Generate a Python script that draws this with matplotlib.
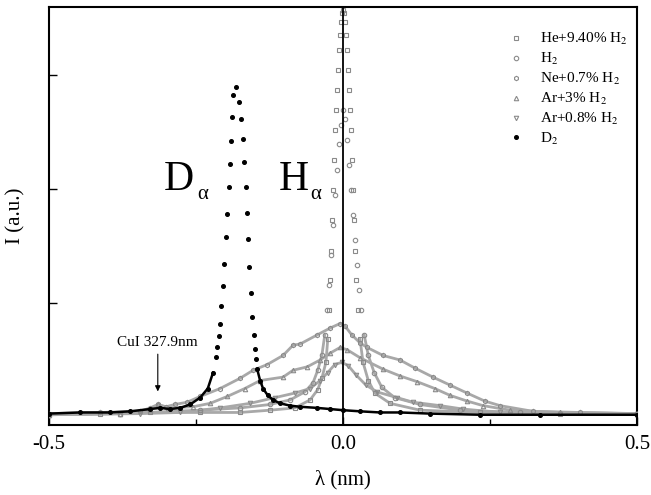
import numpy as np
import matplotlib
matplotlib.use('Agg')
from matplotlib import pyplot as plt

plt.rcParams['font.family'] = ['Liberation Serif', 'DejaVu Serif']
plt.rcParams['mathtext.fontset'] = 'stix'

# wavelength offset (nm) and intensity (a.u.)
he_x = [-0.5, -0.413, -0.328, -0.243, -0.175, -0.124, -0.082, -0.056, -0.043, -0.036,
        -0.029, -0.026, -0.024, -0.022, -0.020, -0.019, -0.017, -0.015, -0.014, -0.012,
        -0.010, -0.009, -0.007, -0.005, -0.003, -0.002, 0.0, 0.002, 0.003, 0.005,
        0.007, 0.009, 0.010, 0.012, 0.014, 0.015, 0.017, 0.019, 0.020, 0.022,
        0.026, 0.029, 0.034, 0.043, 0.054, 0.080, 0.131, 0.233, 0.369, 0.5]
he_y = [0.03, 0.03, 0.04, 0.04, 0.04, 0.06, 0.08, 0.15, 0.24, 0.34,
        0.48, 0.68, 0.94, 1.20, 1.46, 1.73, 1.99, 2.25, 2.52, 2.69,
        2.87, 3.04, 3.22, 3.35, 3.46, 3.54, 3.57, 3.54, 3.46, 3.35,
        3.22, 3.04, 2.87, 2.69, 2.52, 2.25, 1.99, 1.73, 1.46, 1.20,
        0.94, 0.68, 0.48, 0.32, 0.21, 0.12, 0.06, 0.04, 0.03, 0.03]

h2_x = [-0.5, -0.379, -0.243, -0.175, -0.124, -0.090, -0.065, -0.051, -0.043, -0.036,
        -0.031, -0.027, -0.024, -0.020, -0.017, -0.014, -0.010, -0.007, -0.003, 0.0,
        0.003, 0.007, 0.010, 0.014, 0.017, 0.020, 0.024, 0.027, 0.031, 0.036,
        0.043, 0.053, 0.066, 0.088, 0.131, 0.199, 0.301, 0.5]
h2_y = [0.02, 0.03, 0.06, 0.08, 0.11, 0.15, 0.22, 0.30, 0.41, 0.54,
        0.72, 0.94, 1.16, 1.42, 1.68, 1.95, 2.17, 2.39, 2.56, 2.69,
        2.61, 2.43, 2.21, 1.99, 1.77, 1.55, 1.33, 1.11, 0.94, 0.72,
        0.54, 0.39, 0.26, 0.17, 0.11, 0.06, 0.04, 0.03]

ne_x = [-0.5, -0.413, -0.345, -0.328, -0.315, -0.301, -0.286, -0.265, -0.243, -0.209,
        -0.175, -0.153, -0.129, -0.102, -0.085, -0.073, -0.044, -0.022, -0.005, 0.003,
        0.015, 0.029, 0.041, 0.068, 0.097, 0.122, 0.153, 0.182, 0.211, 0.241,
        0.267, 0.323, 0.403, 0.5]
ne_y = [0.03, 0.04, 0.05, 0.08, 0.11, 0.09, 0.11, 0.13, 0.18, 0.25,
        0.34, 0.41, 0.46, 0.54, 0.63, 0.64, 0.72, 0.78, 0.82, 0.80,
        0.72, 0.65, 0.61, 0.54, 0.50, 0.43, 0.35, 0.28, 0.21, 0.14,
        0.10, 0.05, 0.04, 0.03]

ar3_x = [-0.5, -0.379, -0.328, -0.315, -0.298, -0.255, -0.226, -0.197, -0.167, -0.141,
         -0.102, -0.085, -0.061, -0.039, -0.022, -0.005, 0.007, 0.029, 0.068, 0.097,
         0.126, 0.156, 0.182, 0.211, 0.238, 0.284, 0.369, 0.5]
ar3_y = [0.02, 0.03, 0.06, 0.11, 0.08, 0.09, 0.12, 0.18, 0.25, 0.32,
         0.35, 0.41, 0.44, 0.50, 0.56, 0.61, 0.59, 0.52, 0.42, 0.36,
         0.31, 0.25, 0.19, 0.14, 0.10, 0.06, 0.04, 0.03]

ar08_x = [-0.5, -0.345, -0.277, -0.209, -0.158, -0.116, -0.082, -0.056, -0.039, -0.026,
          -0.014, -0.002, 0.009, 0.022, 0.039, 0.058, 0.092, 0.119, 0.165, 0.204,
          0.267, 0.369, 0.5]
ar08_y = [0.02, 0.03, 0.04, 0.08, 0.12, 0.17, 0.21, 0.25, 0.32, 0.39,
          0.46, 0.48, 0.45, 0.37, 0.28, 0.22, 0.17, 0.13, 0.10, 0.07,
          0.04, 0.03, 0.03]

d2_x = [-0.5, -0.447, -0.396, -0.362, -0.328, -0.311, -0.294, -0.277, -0.260, -0.243,
        -0.230, -0.221, -0.216, -0.214, -0.211, -0.209, -0.207, -0.204, -0.202, -0.199,
        -0.197, -0.194, -0.192, -0.190, -0.189, -0.187, -0.182, -0.177, -0.173, -0.170,
        -0.168, -0.165, -0.163, -0.162, -0.160, -0.156, -0.155, -0.151, -0.150, -0.148,
        -0.146, -0.141, -0.136, -0.128, -0.119, -0.107, -0.090, -0.073, -0.044, -0.022,
        0.0, 0.029, 0.063, 0.097, 0.148, 0.233, 0.335, 0.5]
d2_y = [0.03, 0.04, 0.04, 0.05, 0.07, 0.08, 0.07, 0.08, 0.11, 0.17,
        0.25, 0.39, 0.53, 0.61, 0.71, 0.82, 0.97, 1.15, 1.34, 1.58,
        1.78, 2.02, 2.22, 2.42, 2.63, 2.82, 2.89, 2.76, 2.61, 2.44,
        2.24, 2.02, 1.79, 1.56, 1.32, 1.09, 0.88, 0.72, 0.60, 0.51,
        0.42, 0.32, 0.25, 0.19, 0.15, 0.12, 0.10, 0.09, 0.08, 0.07,
        0.06, 0.05, 0.04, 0.04, 0.03, 0.02, 0.02, 0.02]

# (x, y, marker, label, height above which the points stand alone)
gray_series = [
    (he_x, he_y, 's', 'He+9.40% H$_2$', 0.75),
    (h2_x, h2_y, 'o', 'H$_2$', 0.75),
    (ne_x, ne_y, 'h', 'Ne+0.7% H$_2$', 9),
    (ar3_x, ar3_y, '^', 'Ar+3% H$_2$', 9),
    (ar08_x, ar08_y, 'v', 'Ar+0.8% H$_2$', 9),
]

fig = plt.figure(figsize=(6.51, 4.95), dpi=100)
ax = fig.add_axes([0.0753, 0.1414, 0.9032, 0.8445])

gcol = '#8a8a8a'
for x, y, m, lab, cut in gray_series:
    y = np.array(y)
    ax.plot(x, np.where(y < cut, y, np.nan), '-', color='#a8a8a8', lw=2.0, zorder=2)
    ax.plot(x, y, ls='none', marker=m, ms=3.2, mfc='none', mec=gcol, mew=0.8,
            label=lab, zorder=3)

d2x = np.array(d2_x)
d2y = np.array(d2_y)
ax.plot(d2x, np.where(d2y < 0.45, d2y, np.nan), '-', color='k', lw=1.8, zorder=4)
ax.plot(d2x, d2y, ls='none', marker='o', ms=2.6, color='k', label='D$_2$', zorder=5)

ax.axvline(0.0, color='k', lw=1.3, zorder=6)

ax.set_xlim(-0.5, 0.5)
ax.set_ylim(-0.07, 3.596)
ax.set_xticks([-0.5, 0.0, 0.5])
ax.set_xticklabels(['-0.5', '0.0', '0.5'])
ax.set_xticks([-0.25, 0.25], minor=True)
ax.set_yticks([1, 2, 3])
ax.set_yticklabels([])
ax.tick_params(axis='both', which='major', direction='in', length=6, width=1,
               labelsize=15, pad=7)
ax.tick_params(axis='x', which='minor', direction='in', length=4, width=1)
for s in ax.spines.values():
    s.set_linewidth(1.5)

ax.set_xlabel('λ (nm)', fontsize=15, labelpad=12)
ax.set_ylabel('I (a.u.)', fontsize=15, labelpad=10)

# line labels
ax.text(-0.305, 1.99, 'D', fontsize=30, ha='left', va='baseline')
ax.text(-0.248, 1.91, 'α', fontsize=15, ha='left', va='baseline')
ax.text(-0.11, 1.99, 'H', fontsize=30, ha='left', va='baseline')
ax.text(-0.056, 1.91, 'α', fontsize=15, ha='left', va='baseline')

ax.annotate('CuI 327.9nm', xy=(-0.315, 0.2), xytext=(-0.315, 0.6),
            ha='center', va='bottom', fontsize=11,
            arrowprops=dict(arrowstyle='-|>', color='k', lw=0.8,
                            mutation_scale=8))

ax.legend(loc='upper left', bbox_to_anchor=(0.755, 0.975), frameon=False,
          fontsize=11, numpoints=1, handlelength=1.2, handletextpad=1.0,
          labelspacing=0.25)

fig.savefig('out.png', dpi=100)
